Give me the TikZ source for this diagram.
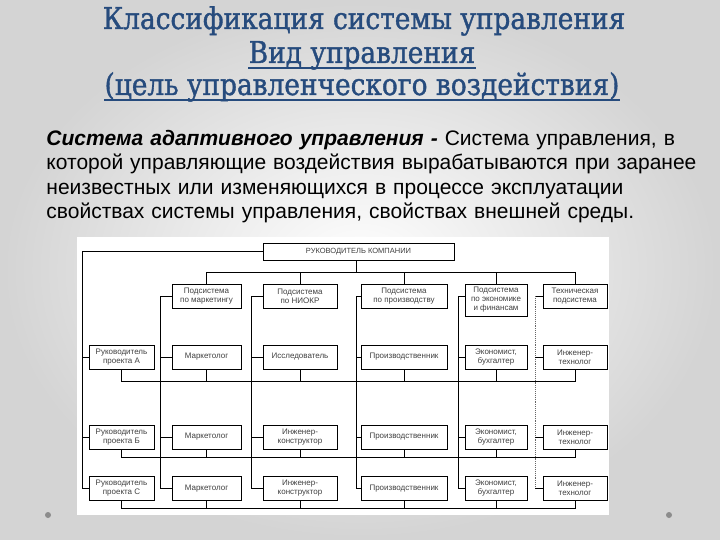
\documentclass[tikz,border=0pt]{standalone}
\usepackage{fontspec}
\usetikzlibrary{calc}
\usetikzlibrary{positioning}
\newfontfamily\titlefont[FakeStretch=0.88,FakeBold=1.2]{DejaVu Serif}
\newfontfamily\bodyfont{Liberation Sans}
\definecolor{titleblue}{HTML}{264B7D}

\begin{document}
\begin{tikzpicture}
[x=1pt,y=-1pt,line width=0.9pt,every node/.style={inner sep=1pt},
 postbox/.style={draw,fill=white,line width=1pt,align=center,text=black!75,font=\bodyfont\fontsize{8}{9}\selectfont,minimum height=24pt},
 headline/.style={anchor=base,inner sep=0pt,text=titleblue,font=\titlefont\fontsize{30}{34}\selectfont},
 underbar/.style={titleblue,line width=1.6pt}]

\useasboundingbox (0,0) rectangle (720,540);
\shade[inner color=white,outer color=black!17] (0,0) rectangle (720,540);
\fill[white] (77,237) rectangle (609,515);
\fill[black!45] (48,515) circle (3);
\fill[black!45] (669,515) circle (3);

\node[headline] (t1) at (364,29) {Классификация системы управления};
\node[headline] (t2) at (362,63) {Вид управления};
\node[headline] (t3) at (362,95) {(цель управленческого воздействия)};
\draw[underbar] ([yshift=-5pt]t2.base west) -- ([yshift=-5pt]t2.base east);
\draw[underbar] ([yshift=-5pt]t3.base west) -- ([yshift=-5pt]t3.base east);

\node[anchor=base west,text width=631pt,inner sep=0pt,font=\bodyfont\fontsize{21}{24.5}\selectfont] (defn) at (46,145.5)
{\makebox[631pt][s]{\textbf{\textit{Система адаптивного управления -}} Система управления, в}\\
\makebox[631pt][s]{которой управляющие воздействия вырабатываются при заранее}\\
\makebox[631pt][s]{неизвестных или изменяющихся в процессе эксплуатации}\\
свойствах системы управления, свойствах внешней среды.};

\node[postbox,minimum width=191pt,minimum height=17pt,font=\bodyfont\fontsize{7.5}{9}\selectfont] (head) at (358.5,251.5) {РУКОВОДИТЕЛЬ КОМПАНИИ};

\node[postbox,minimum width=69pt] (s1) at (206.5,296) {Подсистема\\по маркетингу};
\node[postbox,minimum width=74pt] (s2) at (300,296) {Подсистема\\по НИОКР};
\node[postbox,minimum width=86pt] (s3) at (404,296) {Подсистема\\по производству};
\node[postbox,minimum width=62pt,minimum height=32pt] (s4) at (496,300) {Подсистема\\по экономике\\и финансам};
\node[postbox,minimum width=64pt] (s5) at (575,296) {Техническая\\подсистема};

\node[postbox,minimum width=65pt] (a0) at (121.5,357) {Руководитель\\проекта А};
\node[postbox,minimum width=69pt] (a1) at (206.5,357) {Маркетолог};
\node[postbox,minimum width=74pt] (a2) at (300,357) {Исследователь};
\node[postbox,minimum width=86pt] (a3) at (404,357) {Производственник};
\node[postbox,minimum width=62pt] (a4) at (496,357) {Экономист,\\бухгалтер};
\node[postbox,minimum width=64pt] (a5) at (575,357) {Инженер-\\технолог};

\node[postbox,minimum width=65pt] (b0) at (121.5,437) {Руководитель\\проекта Б};
\node[postbox,minimum width=69pt] (b1) at (206.5,437) {Маркетолог};
\node[postbox,minimum width=74pt] (b2) at (300,437) {Инженер-\\конструктор};
\node[postbox,minimum width=86pt] (b3) at (404,437) {Производственник};
\node[postbox,minimum width=62pt] (b4) at (496,437) {Экономист,\\бухгалтер};
\node[postbox,minimum width=64pt] (b5) at (575,437) {Инженер-\\технолог};

\node[postbox,minimum width=65pt] (c0) at (121.5,488.5) {Руководитель\\проекта С};
\node[postbox,minimum width=69pt] (c1) at (206.5,488.5) {Маркетолог};
\node[postbox,minimum width=74pt] (c2) at (300,488.5) {Инженер-\\конструктор};
\node[postbox,minimum width=86pt] (c3) at (404,488.5) {Производственник};
\node[postbox,minimum width=62pt] (c4) at (496,488.5) {Экономист,\\бухгалтер};
\node[postbox,minimum width=64pt] (c5) at (575,488.5) {Инженер-\\технолог};

\coordinate (v0) at (82,488.5);
\coordinate (v1) at (160,488.5);
\coordinate (v2) at (251,488.5);
\coordinate (v3) at (356,488.5);
\coordinate (v4) at (458,488.5);
\coordinate (v5) at (535,488.5);
\coordinate (hbus) at (356,272);
\coordinate (abus) at (350,381);
\coordinate (bbus) at (350,457);
\coordinate (cbus) at (350,508);

\draw (head.south -| hbus) -- (hbus);
\draw (s1.north) |- (hbus);
\draw (s2.north) |- (hbus);
\draw (s3.north) |- (hbus);
\draw (s4.north) |- (hbus);
\draw (s5.north) |- (hbus);

\draw (head.west) -| (v0) -- (c0.west);
\draw (a0.west) -- (a0.west -| v0);
\draw (b0.west) -- (b0.west -| v0);

\draw (s1.west) -| (v1) -- (c1.west);
\draw (a1.west) -- (a1.west -| v1);
\draw (b1.west) -- (b1.west -| v1);

\draw (s2.west) -| (v2) -- (c2.west);
\draw (a2.west) -- (a2.west -| v2);
\draw (b2.west) -- (b2.west -| v2);

\draw (s3.west) -| (v3) -- (c3.west);
\draw (a3.west) -- (a3.west -| v3);
\draw (b3.west) -- (b3.west -| v3);

\draw ([yshift=4pt]s4.west) -| (v4) -- (c4.west);
\draw (a4.west) -- (a4.west -| v4);
\draw (b4.west) -- (b4.west -| v4);

\draw (s5.west) -- (s5.west -| v5);
\draw[densely dotted,black!60] (s5.west -| v5) -- (v5);
\draw (a5.west) -- (a5.west -| v5);
\draw (b5.west) -- (b5.west -| v5);
\draw (c5.west) -- (v5);

\draw (a0.south) |- (abus);
\draw (a1.south) |- (abus);
\draw (a2.south) |- (abus);
\draw (a3.south) |- (abus);
\draw (a4.south) |- (abus);
\draw (a5.south) |- (abus);

\draw (b0.south) |- (bbus);
\draw (b1.south) |- (bbus);
\draw (b2.south) |- (bbus);
\draw (b3.south) |- (bbus);
\draw (b4.south) |- (bbus);
\draw (b5.south) |- (bbus);

\draw (c0.south) |- (cbus);
\draw (c1.south) |- (cbus);
\draw (c2.south) |- (cbus);
\draw (c3.south) |- (cbus);
\draw (c4.south) |- (cbus);
\draw (c5.south) |- (cbus);

\end{tikzpicture}
\end{document}
